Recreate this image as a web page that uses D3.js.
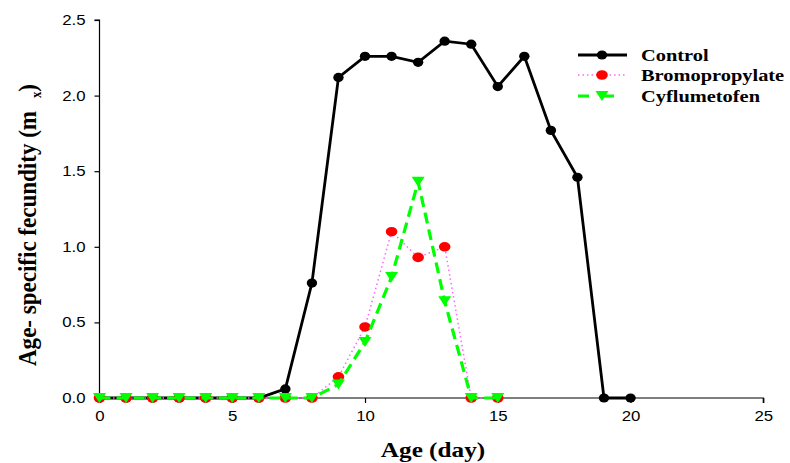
<!DOCTYPE html>
<html>
<head>
  <meta charset="utf-8">
  <script src="https://cdnjs.cloudflare.com/ajax/libs/d3/7.8.5/d3.min.js"></script>
  <title>fecundity</title>
  <style>
    body { margin: 0; background: #fff; }
  </style>
</head>
<body>
<script>
// age-specific fecundity (mx)
var agesControl = d3.range(0, 21);
var control = [0, 0, 0, 0, 0, 0, 0, 0.06, 0.76, 2.12, 2.26, 2.26, 2.22, 2.36, 2.34, 2.06, 2.26, 1.77, 1.46, 0, 0];
var agesTreat = d3.range(0, 16);
var bromo = [0, 0, 0, 0, 0, 0, 0, 0, 0, 0.14, 0.47, 1.10, 0.93, 1.00, 0, 0];
var cyflu = [0, 0, 0, 0, 0, 0, 0, 0, 0, 0.09, 0.37, 0.80, 1.43, 0.64, 0, 0];
var seriesNames = ["Control", "Bromopropylate", "Cyflumetofen"];
var xTicks = [0, 5, 10, 15, 20, 25];
var yTicks = [0, 0.5, 1.0, 1.5, 2.0, 2.5];

var w = 790, h = 463;
var serif = "'Liberation Serif', 'Times New Roman', serif";
var sans = "'Liberation Sans', Arial, sans-serif";
var svg = d3.select("body").append("svg").attr("width", w).attr("height", h);

var x = d3.scaleLinear().domain([0, 25]).range([99.5, 763.3]);
var y = d3.scaleLinear().domain([0, 2.5]).range([398, 20]);

// the original picture is stretched sideways, so widen text a bit
function stretch(sel, k) {
  sel.each(function() {
    var len = this.getComputedTextLength();
    d3.select(this).attr("textLength", len * k).attr("lengthAdjust", "spacingAndGlyphs");
  });
}

var xAxis = svg.append("g")
  .attr("transform", "translate(0," + y(0) + ")")
  .call(d3.axisBottom(x).tickValues(xTicks).tickSize(5).tickPadding(8).tickFormat(d3.format("d")));
var yAxis = svg.append("g")
  .attr("transform", "translate(" + x(0) + ",0)")
  .call(d3.axisLeft(y).tickValues(yTicks).tickSize(5).tickPadding(9).tickFormat(d3.format(".1f")));

[xAxis, yAxis].forEach(function(g) {
  g.select(".domain").attr("stroke", "#000").attr("stroke-width", 1.2);
  g.selectAll(".tick line").attr("stroke", "#000").attr("stroke-width", 1.2);
  g.selectAll(".tick text")
    .style("font-family", sans)
    .attr("font-size", 14)
    .attr("fill", "#000");
});
xAxis.select(".domain").attr("d", "M" + x(0) + ",0H" + x(25) + "V5");
yAxis.select(".domain").attr("d", "M-5," + y(2.5) + "H0V" + y(0));
xAxis.selectAll(".tick text").call(stretch, 1.2);
yAxis.selectAll(".tick text").call(stretch, 1.2);

var line = d3.line().x(function(d) { return x(d[0]); }).y(function(d) { return y(d[1]); });

var cData = d3.zip(agesControl, control);
var bData = d3.zip(agesTreat, bromo);
var gData = d3.zip(agesTreat, cyflu);

// Control
svg.append("path").datum(cData).attr("d", line)
  .attr("fill", "none").attr("stroke", "#000").attr("stroke-width", 2.8);
svg.selectAll(".cpt").data(cData).enter().append("ellipse")
  .attr("cx", function(d) { return x(d[0]); })
  .attr("cy", function(d) { return y(d[1]); })
  .attr("rx", 5.2).attr("ry", 4.6).attr("fill", "#000");

// Bromopropylate
svg.append("path").datum(bData).attr("d", line)
  .attr("fill", "none").attr("stroke", "#ff66ff").attr("stroke-width", 1.5)
  .attr("stroke-dasharray", "1.5,3");
svg.selectAll(".bpt").data(bData).enter().append("ellipse")
  .attr("cx", function(d) { return x(d[0]); })
  .attr("cy", function(d) { return y(d[1]); })
  .attr("rx", 5.8).attr("ry", 4.8).attr("fill", "#ff0000");

// Cyflumetofen
function tri(cx, cy) {
  return "M" + (cx - 6.5) + "," + (cy - 5) + "H" + (cx + 6.5) + "L" + cx + "," + (cy + 5) + "Z";
}
svg.append("path").datum(gData).attr("d", line)
  .attr("fill", "none").attr("stroke", "#00ff00").attr("stroke-width", 3.2)
  .attr("stroke-dasharray", "11,6");
svg.selectAll(".gpt").data(gData).enter().append("path")
  .attr("d", function(d) { return tri(x(d[0]), y(d[1])); })
  .attr("fill", "#00ff00");

// legend
var lg = svg.append("g");
var rows = [55, 75, 96];
seriesNames.forEach(function(name, i) {
  var ry = rows[i];
  var ln = lg.append("line").attr("x1", 578).attr("x2", 627).attr("y1", ry).attr("y2", ry);
  if (i == 0) {
    ln.attr("stroke", "#000").attr("stroke-width", 2.8);
    lg.append("ellipse").attr("cx", 602).attr("cy", ry).attr("rx", 5.2).attr("ry", 4.6).attr("fill", "#000");
  } else if (i == 1) {
    ln.attr("stroke", "#ff66ff").attr("stroke-width", 1.5).attr("stroke-dasharray", "1.5,3");
    lg.append("ellipse").attr("cx", 602).attr("cy", ry).attr("rx", 5.8).attr("ry", 4.8).attr("fill", "#ff0000");
  } else {
    ln.attr("stroke", "#00ff00").attr("stroke-width", 3.2).attr("stroke-dasharray", "11,14");
    lg.append("path").attr("d", tri(602, ry)).attr("fill", "#00ff00");
  }
  lg.append("text").attr("x", 641).attr("y", ry + 6)
    .style("font-family", serif)
    .attr("font-weight", "bold").attr("font-size", 17)
    .text(name).call(stretch, 1.2);
});

// axis titles
svg.append("text")
  .attr("x", 433).attr("y", 457).attr("text-anchor", "middle")
  .style("font-family", serif)
  .attr("font-weight", "bold").attr("font-size", 21)
  .text("Age (day)").call(stretch, 1.2);

var yt = svg.append("text")
  .attr("transform", "translate(36,366) rotate(-90)")
  .style("font-family", serif)
  .attr("font-weight", "bold").attr("font-size", 25);
yt.append("tspan").text("Age- specific fecundity (m");
yt.append("tspan").attr("dx", 14).attr("dy", 5).attr("font-size", 14).text("x");
yt.append("tspan").attr("dy", -5).text(")");
yt.attr("textLength", 282).attr("lengthAdjust", "spacingAndGlyphs");
</script>
</body>
</html>
